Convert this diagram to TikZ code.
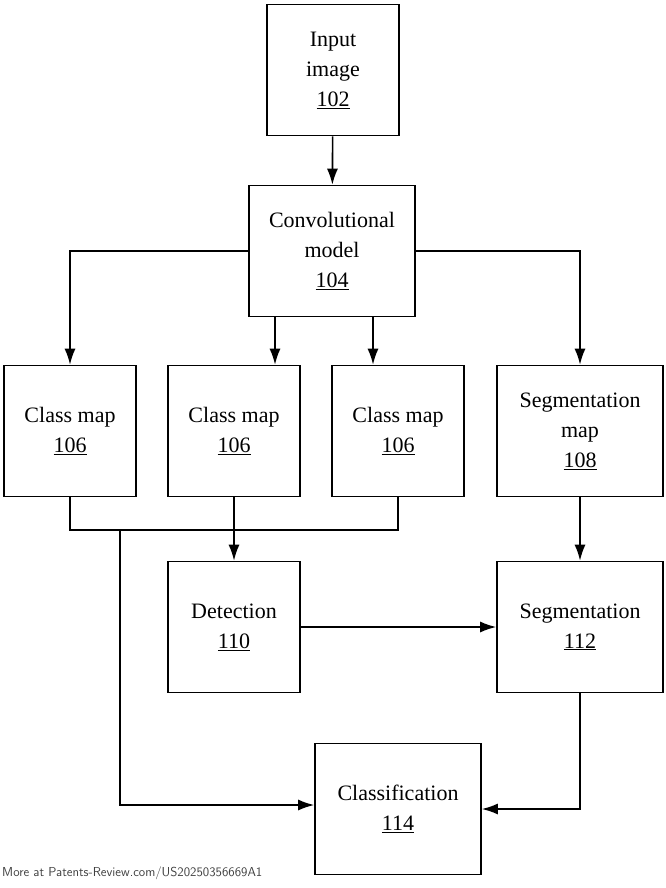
\documentclass[tikz,border=0pt]{standalone}
\usepackage{fontspec}
\setmainfont{Liberation Serif}
\usepackage{tikz}
\usetikzlibrary{arrows.meta}
\usetikzlibrary{positioning}
\tikzset{box/.style = {draw, line width = 1.6pt, align = center,
                       inner sep = 0, minimum height = 131pt,
                       font = \fontsize{22}{30}\selectfont}}
\tikzset{narrow/.style = {box, minimum width = 132pt}}
\tikzset{wide/.style = {box, minimum width = 166pt}}
\tikzset{link/.style = {line width = 1.6pt, -{Latex[length = 16pt, width = 11pt]}}}
\begin{document}
\begin{tikzpicture}[x = 1pt, y = -1pt]
      \useasboundingbox (0, 0) rectangle (666, 888);
      \node [narrow] (input) at (333, 70) {Input\\image\\\underline{102}};
      \node [wide] (conv) at (332, 251) {Convolutional\\model\\\underline{104}};
      \node [narrow] (classa) at (70, 431) {Class map\\\underline{106}};
      \node [narrow] (classb) at (234, 431) {Class map\\\underline{106}};
      \node [narrow] (classc) at (398, 431) {Class map\\\underline{106}};
      \node [wide] (segmap) at (580, 431) {Segmentation\\map\\\underline{108}};
      \node [narrow] (detect) at (234, 627) {Detection\\\underline{110}};
      \node [wide] (segm) at (580, 627) {Segmentation\\\underline{112}};
      \node [wide] (classif) at (398, 809) {Classification\\\underline{114}};
      \coordinate (join) at (234, 530);
      \coordinate (turn) at (120, 530);
      \draw [link] (input) -- (conv);
      \draw [link] (conv.west) -| (classa.north);
      \draw [link] (conv.south -| 275, 0) -- (classb.north -| 275, 0);
      \draw [link] (conv.south -| 373, 0) -- (classc.north -| 373, 0);
      \draw [link] (conv.east) -| (segmap.north);
      \draw [line width = 1.6pt] (classa.south) |- (join) -| (classc.south);
      \draw [line width = 1.6pt] (classb.south) -- (join);
      \draw [link] (join) -- (detect.north);
      \draw [link] (turn) |- (classif.west |- 0, 805);
      \draw [link] (detect) -- (segm);
      \draw [link] (segmap) -- (segm);
      \draw [link] (segm.south) |- (classif.east |- 0, 809);
      \node [anchor = south west, inner sep = 2pt, font = \fontsize{13}{15}\selectfont\sffamily,
             text = black!75] (footer) at (0, 882) {More at Patents-Review.com/US20250356669A1};
    \end{tikzpicture}
\end{document}
